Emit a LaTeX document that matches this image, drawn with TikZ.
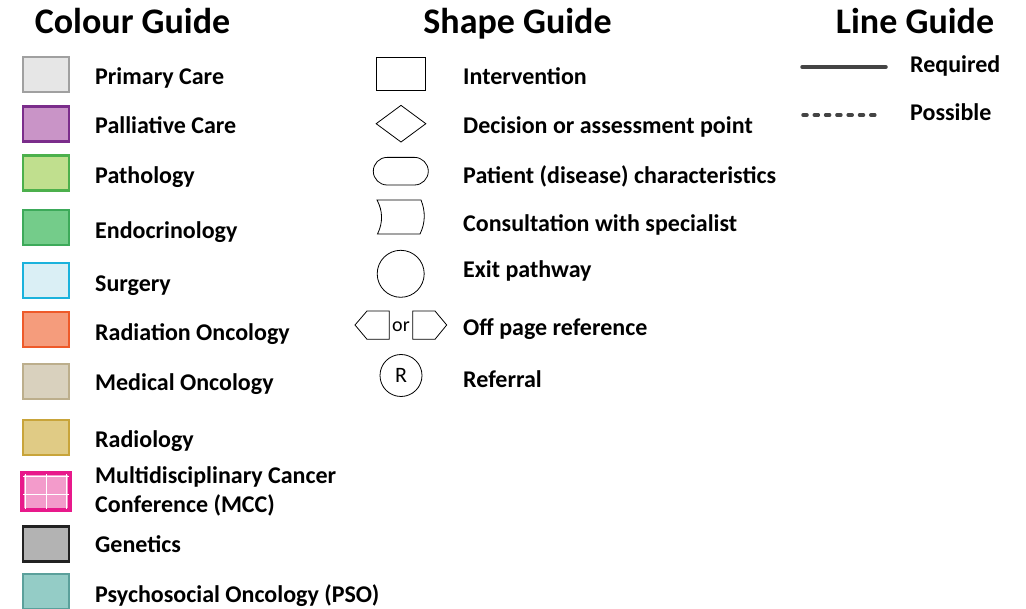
\documentclass[tikz,border=0pt]{standalone}
\usepackage{fontspec}
\setmainfont{Carlito}
\usetikzlibrary{shapes.geometric}
\definecolor{primF}{RGB}{230, 230, 230}
\definecolor{primD}{RGB}{160, 160, 160}
\definecolor{pallF}{RGB}{201, 148, 199}
\definecolor{pallD}{RGB}{123, 45, 139}
\definecolor{pathF}{RGB}{192, 223, 142}
\definecolor{pathD}{RGB}{76, 176, 76}
\definecolor{endoF}{RGB}{116, 204, 138}
\definecolor{endoD}{RGB}{61, 170, 90}
\definecolor{surgF}{RGB}{218, 239, 245}
\definecolor{surgD}{RGB}{27, 178, 220}
\definecolor{radoF}{RGB}{245, 156, 124}
\definecolor{radoD}{RGB}{238, 90, 42}
\definecolor{medoF}{RGB}{217, 209, 190}
\definecolor{medoD}{RGB}{188, 174, 140}
\definecolor{radiF}{RGB}{224, 203, 133}
\definecolor{radiD}{RGB}{200, 164, 58}
\definecolor{mccF}{RGB}{243, 155, 203}
\definecolor{mccD}{RGB}{232, 25, 139}
\definecolor{geneF}{RGB}{179, 179, 179}
\definecolor{geneD}{RGB}{34, 34, 34}
\definecolor{psoF}{RGB}{148, 204, 198}
\definecolor{psoD}{RGB}{91, 160, 155}
\definecolor{ln}{RGB}{68, 68, 68}

\begin{document}
\begin{tikzpicture}[
  every node/.style={inner sep=0pt},
  heading/.style={anchor=base, font=\fontsize{36}{40}\selectfont\bfseries},
  lbl/.style={anchor=base west, align=left, font=\fontsize{24}{29.4}\selectfont\bfseries},
  swatch/.style={rectangle, minimum width=46pt, minimum height=35pt, line width=2.6pt},
  outline/.style={line width=0.8pt, draw=black}
]
\useasboundingbox (0pt, 0pt) rectangle (1026pt, -609pt);

% headings
\node (hcol) [heading] at (132.5pt, -34pt) {Colour Guide};
\node (hshp) [heading] at (517.5pt, -34pt) {Shape Guide};
\node (hlin) [heading] at (915pt, -34pt) {Line Guide};

% colour guide
\node (prim) [swatch, fill=primF, draw=primD] at (46pt, -74.5pt) {};
\node (pall) [swatch, fill=pallF, draw=pallD] at (46pt, -124pt) {};
\node (path) [swatch, fill=pathF, draw=pathD] at (46pt, -173pt) {};
\node (endo) [swatch, fill=endoF, draw=endoD] at (46pt, -227.5pt) {};
\node (surg) [swatch, fill=surgF, draw=surgD] at (46pt, -280.5pt) {};
\node (rado) [swatch, fill=radoF, draw=radoD] at (46pt, -329.5pt) {};
\node (medo) [swatch, fill=medoF, draw=medoD] at (46pt, -381.5pt) {};
\node (radi) [swatch, fill=radiF, draw=radiD] at (46pt, -437.5pt) {};
\node (mcc)  [swatch, fill=mccF, draw=mccD] at (46pt, -491.5pt) {};
\node (gene) [swatch, fill=geneF, draw=geneD] at (46pt, -544pt) {};
\node (pso)  [swatch, fill=psoF, draw=psoD] at (46pt, -591.5pt) {};
\draw [white, line width=1pt]
  ([xshift=1.5pt, yshift=-4pt]mcc.north west) -- ([xshift=-1.5pt, yshift=-4pt]mcc.north east)
  ([yshift=-3pt]mcc.west) -- ([yshift=-3pt]mcc.east)
  ([xshift=4pt, yshift=-1.5pt]mcc.north west) -- ([xshift=4pt, yshift=1.5pt]mcc.south west)
  ([yshift=-1.5pt]mcc.north) -- ([yshift=1.5pt]mcc.south)
  ([xshift=-4pt, yshift=-1.5pt]mcc.north east) -- ([xshift=-4pt, yshift=1.5pt]mcc.south east);
\draw [mccD, line width=2.6pt] (mcc.north west) rectangle (mcc.south east);

\node (tprim) [lbl] at (95pt, -85pt) {Primary Care};
\node (tpall) [lbl] at (95pt, -133.5pt) {Palliative Care};
\node (tpath) [lbl] at (95pt, -183.5pt) {Pathology};
\node (tendo) [lbl] at (95pt, -239pt) {Endocrinology};
\node (tsurg) [lbl] at (95pt, -291.5pt) {Surgery};
\node (trado) [lbl] at (95pt, -340.5pt) {Radiation Oncology};
\node (tmedo) [lbl] at (95pt, -391pt) {Medical Oncology};
\node (tradi) [lbl] at (95pt, -448pt) {Radiology};
\node (tmcc)  [lbl] at (95pt, -512.5pt) {Multidisciplinary Cancer\\Conference (MCC)};
\node (tgene) [lbl] at (95pt, -552pt) {Genetics};
\node (tpso)  [lbl] at (95pt, -602.5pt) {Psychosocial Oncology (PSO)};

% shape guide
\node (intv) [rectangle, outline, minimum width=49.5pt, minimum height=32.5pt] at (401pt, -73.7pt) {};
\node (deci) [diamond, outline, minimum width=50pt, minimum height=37pt] at (401pt, -123.7pt) {};
\node (char) [rectangle, outline, rounded corners=13.8pt, minimum width=55pt, minimum height=27.6pt] at (400.8pt, -171.2pt) {};
\draw [outline] (377pt, -200pt) -- (421pt, -200pt)
  .. controls (425.5pt, -211pt) and (425.5pt, -223pt) .. (420pt, -234pt)
  -- (377.5pt, -234pt)
  .. controls (383pt, -223pt) and (383pt, -211pt) .. cycle;
\node (exit) [circle, outline, minimum size=47pt] at (400.7pt, -273.8pt) {};
\draw [outline] (389.3pt, -311pt) -- (367pt, -311pt) -- (355pt, -325pt)
  -- (367pt, -339.3pt) -- (389.3pt, -339.3pt) -- cycle;
\node (or) [anchor=base, font=\fontsize{20}{24}\selectfont] at (401pt, -332pt) {or};
\draw [outline] (412.7pt, -311pt) -- (435pt, -311pt) -- (446.7pt, -325pt)
  -- (435pt, -339.3pt) -- (412.7pt, -339.3pt) -- cycle;
\node (refr) [circle, outline, minimum size=42pt, font=\fontsize{22}{26}\selectfont] at (401pt, -375.5pt) {R};

\node (tintv) [lbl] at (463pt, -85pt) {Intervention};
\node (tdeci) [lbl] at (463pt, -134pt) {Decision or assessment point};
\node (tchar) [lbl] at (463pt, -183.5pt) {Patient (disease) characteristics};
\node (tcons) [lbl] at (463pt, -231.5pt) {Consultation with specialist};
\node (texit) [lbl] at (463pt, -278pt) {Exit pathway};
\node (toff)  [lbl] at (463pt, -336pt) {Off page reference};
\node (trefr) [lbl] at (463pt, -388pt) {Referral};

% line guide
\coordinate (reqA) at (802pt, -67pt);
\coordinate (reqB) at (886pt, -67pt);
\coordinate (posA) at (803pt, -115pt);
\coordinate (posB) at (882pt, -115pt);
\draw [ln, line width=3.5pt, line cap=round] (reqA) -- (reqB);
\draw [ln, line width=3.5pt, line cap=round, dash pattern=on 4pt off 7.3pt] (posA) -- (posB);
\node (treq) [lbl] at (910pt, -73pt) {Required};
\node (tpos) [lbl] at (910pt, -121pt) {Possible};
\end{tikzpicture}
\end{document}
